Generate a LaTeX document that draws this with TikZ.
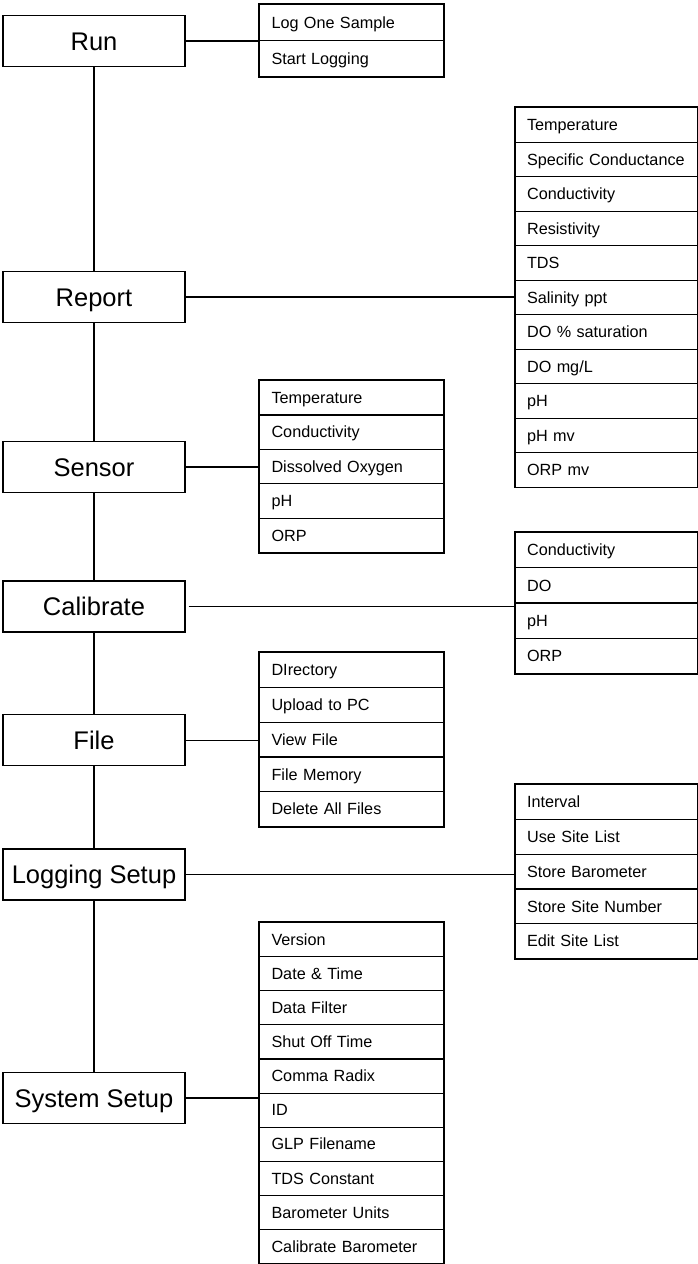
\documentclass[tikz,border=0pt]{standalone}
\usepackage{fontspec}
\setmainfont{Liberation Sans}
\usetikzlibrary{positioning}

\tikzset{
  menu/.style={draw, line width=1.4pt, minimum width=182pt, minimum height=51pt, inner sep=0pt,
    font=\fontsize{25.5}{27}\selectfont, text height=18pt, text depth=0pt},
  item/.style={draw, line width=1.1pt, anchor=north west, minimum width=184pt, minimum height=34.5pt,
    inner xsep=12pt, inner ysep=0pt, text width=160pt, align=left,
    font=\fontsize{16.2}{17}\selectfont, text height=11.5pt, text depth=0pt},
  rightitem/.style={item, minimum width=182pt, inner xsep=11.5pt, text width=159pt},
  frame/.style={draw, line width=1.4pt},
  link/.style={line width=1.5pt},
  thinlink/.style={line width=0.7pt}
}

\begin{document}
\begin{tikzpicture}[x=1pt,y=1pt,yscale=-1]
\useasboundingbox (0,0) rectangle (698,1264);

% main menu
\node[menu] (run) at (94,41) {Run};
\node[menu] (report) at (94,297) {Report};
\node[menu] (sensor) at (94,467) {Sensor};
\node[menu] (calib) at (94,606.5) {Calibrate};
\node[menu] (file) at (94,740) {File};
\node[menu] (logset) at (94,874.5) {Logging Setup};
\node[menu] (syset) at (94,1098) {System Setup};

\draw[link] (run) -- (report) -- (sensor) -- (calib) -- (file) -- (logset) -- (syset);

% Run
\foreach \txt [count=\i] in {Log One Sample, Start Logging}
  \node[item, minimum height=36pt] (run\i) at (259,{4+(\i-1)*36}) {\txt};
\draw[frame] (run1.north west) rectangle (run2.south east);

% Report
\foreach \txt [count=\i] in {Temperature, Specific Conductance, Conductivity, Resistivity, TDS,
    Salinity ppt, DO \% saturation, DO mg/L, pH, pH mv, ORP mv}
  \node[rightitem] (rep\i) at (515,{107+(\i-1)*34.5}) {\txt};
\draw[frame] (rep1.north west) rectangle (rep11.south east);

% Sensor
\foreach \txt [count=\i] in {Temperature, Conductivity, Dissolved Oxygen, pH, ORP}
  \node[item] (sen\i) at (259,{380+(\i-1)*34.4}) {\txt};
\draw[frame] (sen1.north west) rectangle (sen5.south east);

% Calibrate
\foreach \txt [count=\i] in {Conductivity, DO, pH, ORP}
  \node[rightitem, minimum height=35.2pt] (cal\i) at (515,{532+(\i-1)*35.2}) {\txt};
\draw[frame] (cal1.north west) rectangle (cal4.south east);

% File
\foreach \txt [count=\i] in {DIrectory, Upload to PC, View File, File Memory, Delete All Files}
  \node[item, minimum height=34.8pt] (fil\i) at (259,{652+(\i-1)*34.8}) {\txt};
\draw[frame] (fil1.north west) rectangle (fil5.south east);

% Logging Setup
\foreach \txt [count=\i] in {Interval, Use Site List, Store Barometer, Store Site Number, Edit Site List}
  \node[rightitem, minimum height=34.8pt] (log\i) at (515,{784+(\i-1)*34.8}) {\txt};
\draw[frame] (log1.north west) rectangle (log5.south east);

% System Setup
\foreach \txt [count=\i] in {Version, Date \& Time, Data Filter, Shut Off Time, Comma Radix, ID,
    GLP Filename, TDS Constant, Barometer Units, Calibrate Barometer}
  \node[item, minimum height=34.1pt] (sys\i) at (259,{922+(\i-1)*34.1}) {\txt};
\draw[frame] (sys1.north west) rectangle (sys10.south east);

% connectors
\draw[link] (run.east) -- (run.east -| run1.west);
\draw[link] (report.east) -- (report.east -| rep1.west);
\draw[link] (sensor.east) -- (sensor.east -| sen1.west);
\draw[thinlink, shorten <=3pt] (calib.east) -- (calib.east -| cal1.west);
\draw[thinlink] (file.east) -- (file.east -| fil1.west);
\draw[link] (logset.east) -- (logset.east -| log1.west);
\draw[link] (syset.east) -- (syset.east -| sys1.west);

\end{tikzpicture}
\end{document}
